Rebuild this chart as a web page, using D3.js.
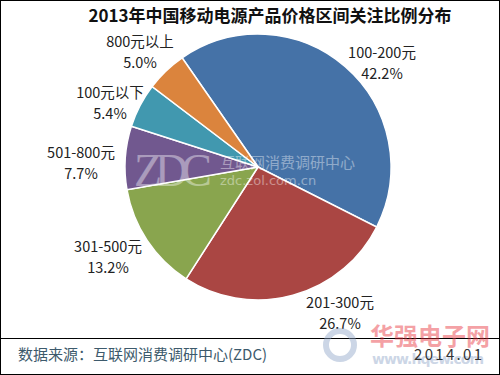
<!DOCTYPE html>
<html>
<head>
<meta charset="utf-8">
<script src="https://cdn.jsdelivr.net/npm/d3@7"></script>
<style>
  body { margin: 0; background: #fff; }
  svg { display: block; }
</style>
</head>
<body>
<svg width="500" height="375"></svg>
<script>
const categories = ["100-200元", "201-300元", "301-500元", "501-800元", "100元以下", "800元以上"];
const shares = [42.2, 26.7, 13.2, 7.7, 5.4, 5.0];
const colors = ["#4572a7", "#aa4643", "#89a54e", "#71588f", "#4198af", "#db843d"];
// label anchor points, one per slice (outside the pie)
const labelPos = [[382, 53], [340, 303], [108, 247], [81, 153], [110, 93], [140, 42]];

const svg = d3.select("svg");
const width = 500, height = 375;
const cx = 258, cy = 167, r = 133;
const font = "'Noto Sans CJK SC', 'Noto Sans', sans-serif";

svg.append("rect")
    .attr("x", 0.5).attr("y", 0.5)
    .attr("width", width - 1).attr("height", height - 1)
    .attr("fill", "#fff")
    .attr("stroke", "#000");

svg.append("text")
    .attr("x", 270).attr("y", 22)
    .attr("text-anchor", "middle")
    .attr("font-family", font)
    .attr("font-weight", "bold")
    .attr("font-size", 17)
    .attr("fill", "#111")
    .text("2013年中国移动电源产品价格区间关注比例分布");

const start = -34.8 * Math.PI / 180;
const pie = d3.pie()
    .sort(null)
    .startAngle(start)
    .endAngle(start + 2 * Math.PI);
const arc = d3.arc().innerRadius(0).outerRadius(r);

const g = svg.append("g").attr("transform", `translate(${cx},${cy})`);
g.selectAll("path")
  .data(pie(shares))
  .join("path")
    .attr("d", arc)
    .attr("fill", (d, i) => colors[i])
    .attr("stroke", "#fff")
    .attr("stroke-width", 1.5);

// ZDC watermark
const wm = svg.append("g").attr("fill", "#fff").attr("opacity", 0.4);
wm.append("text")
    .attr("x", 134).attr("y", 186)
    .attr("font-family", "'Liberation Serif', serif")
    .attr("font-size", 46)
    .attr("textLength", 78)
    .text("ZDC");
wm.append("text")
    .attr("x", 220).attr("y", 168)
    .attr("font-family", font)
    .attr("font-size", 15)
    .text("互联网消费调研中心");
wm.append("text")
    .attr("x", 220).attr("y", 185)
    .attr("font-family", "'DejaVu Sans', sans-serif")
    .attr("font-size", 13)
    .text("zdc.zol.com.cn");

const labels = svg.append("g")
    .attr("font-family", font)
    .attr("font-size", 14.5)
    .attr("fill", "#222")
    .attr("text-anchor", "middle");
labels.selectAll("g")
  .data(categories)
  .join("g")
    .attr("transform", (d, i) => `translate(${labelPos[i][0]},${labelPos[i][1]})`)
    .each(function(d, i) {
      const sel = d3.select(this);
      sel.append("text").attr("y", 5).text(d);
      sel.append("text").attr("y", 26).text(d3.format(".1f")(shares[i]) + "%");
    });

svg.append("line")
    .attr("x1", 0).attr("x2", width)
    .attr("y1", 338.5).attr("y2", 338.5)
    .attr("stroke", "#000");

// hqew watermark
const hq = svg.append("g").attr("opacity", 0.45);
hq.append("circle")
    .attr("cx", 340).attr("cy", 345).attr("r", 14)
    .attr("fill", "none").attr("stroke", "#8fa6c8").attr("stroke-width", 6);
hq.append("text")
    .attr("x", 370).attr("y", 345)
    .attr("font-family", font)
    .attr("font-weight", "bold")
    .attr("font-size", 24)
    .attr("fill", "#e8303a")
    .text("华强电子网");
hq.append("text")
    .attr("x", 372).attr("y", 364)
    .attr("font-family", "'DejaVu Sans', sans-serif")
    .attr("font-weight", "bold")
    .attr("font-size", 14)
    .attr("textLength", 112)
    .attr("fill", "#8fa6c8")
    .text("www.hqew.com");

svg.append("text")
    .attr("x", 18).attr("y", 360)
    .attr("font-family", font)
    .attr("font-size", 15)
    .attr("fill", "#3d5a6c")
    .text("数据来源：互联网消费调研中心(ZDC)");

svg.append("text")
    .attr("x", 414).attr("y", 360)
    .attr("font-family", font)
    .attr("font-size", 15)
    .attr("textLength", 68)
    .attr("fill", "#333")
    .text("2014.01");
</script>
</body>
</html>
